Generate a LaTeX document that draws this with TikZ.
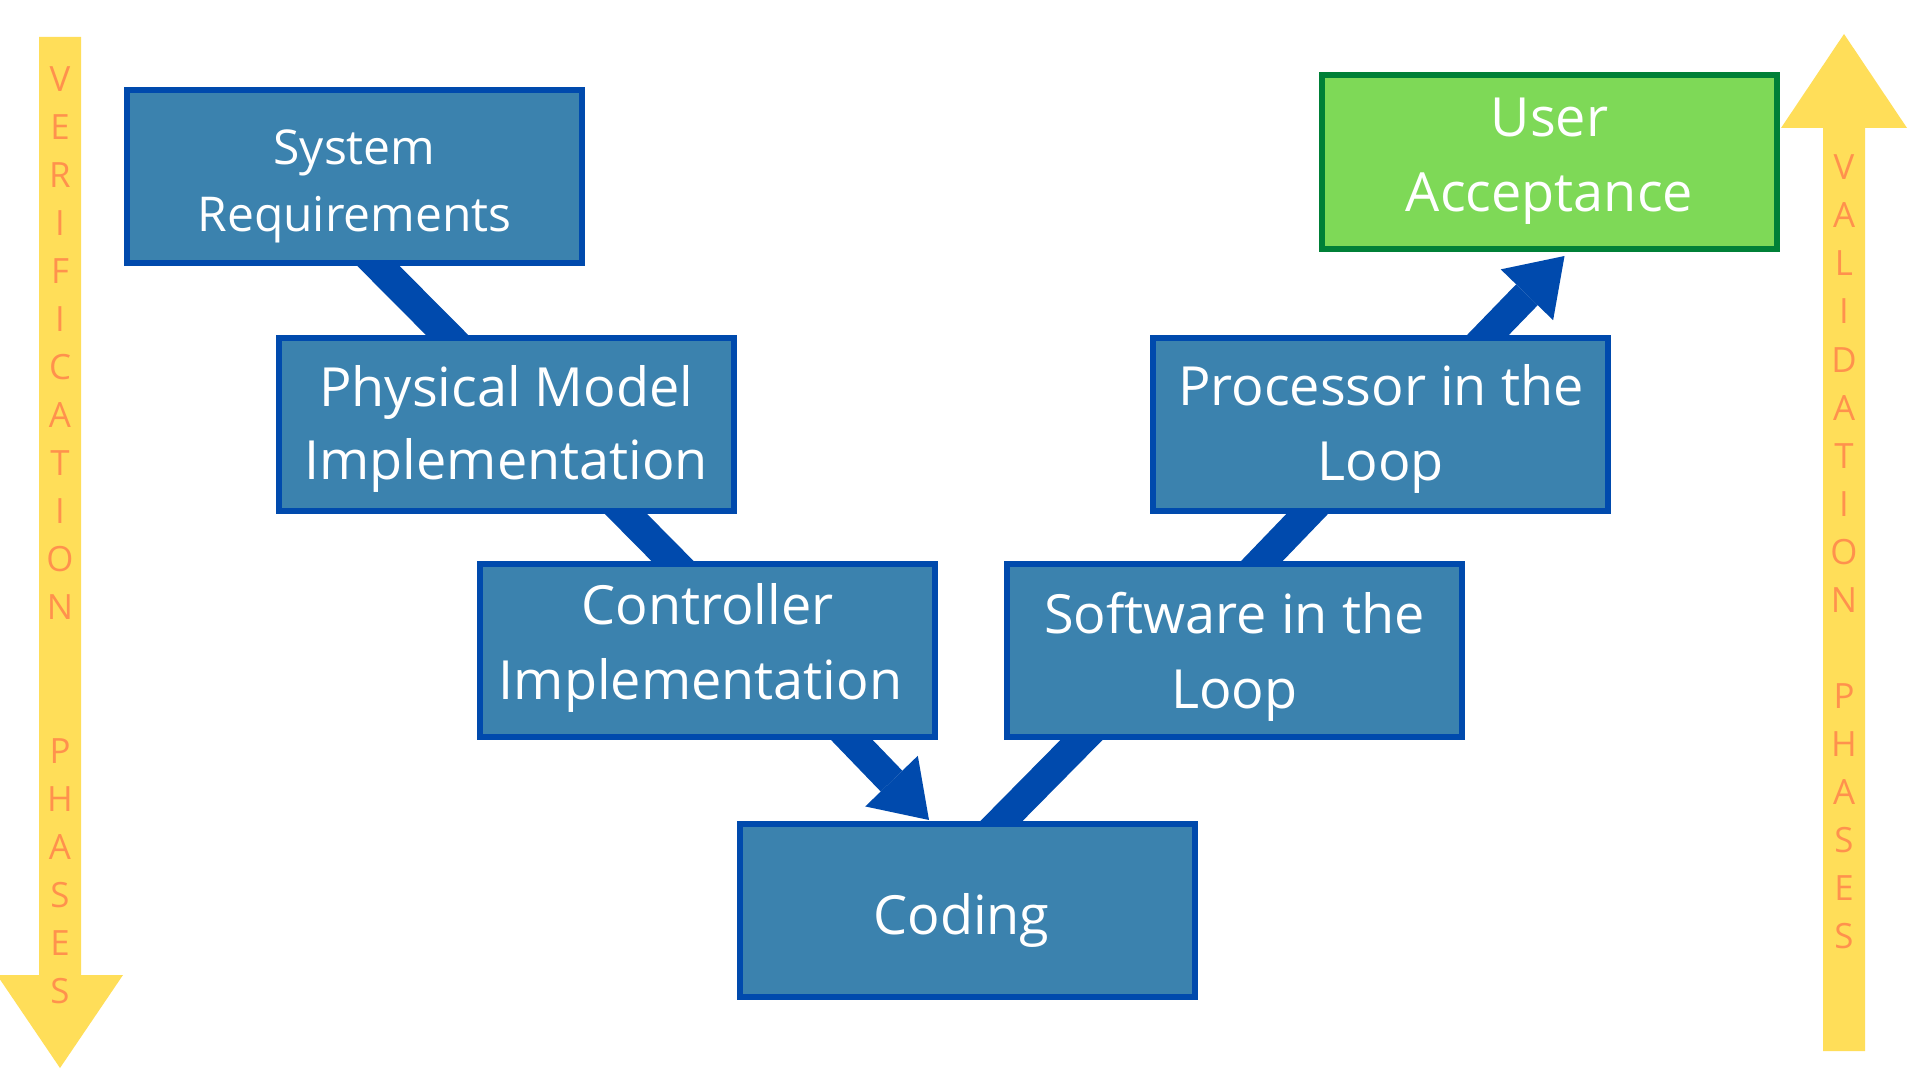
\documentclass[tikz,border=0pt]{standalone}
\usepackage{fontspec}
\setmainfont{Open Sans}
\usetikzlibrary{arrows.meta,calc}
\definecolor{boxfill}{HTML}{3B82AE}
\definecolor{boxline}{HTML}{004AAD}
\definecolor{uafill}{HTML}{7ED957}
\definecolor{ualine}{HTML}{008037}
\definecolor{phase}{HTML}{FFDE59}
\definecolor{phasetxt}{HTML}{FF914D}
\pgfdeclarelayer{back}
\pgfdeclarelayer{bg}
\pgfsetlayers{back,bg,main}
\begin{document}
\begin{tikzpicture}[x=0.5pt,y=-0.5pt,
  stage/.style={draw=boxline, fill=boxfill, line width=3pt, minimum width=227.5pt, minimum height=86.5pt, inner sep=0pt, outer sep=0pt},
  accept/.style={stage, draw=ualine, fill=uafill, minimum height=87pt},
  lbl/.style={text=white, font=\fontsize{27}{37.5}\selectfont, inner sep=0pt, anchor=base},
  lblsmall/.style={lbl, font=\fontsize{24}{33.5}\selectfont},
  conn/.style={draw=boxline, line width=15pt},
  head/.style={-{Triangle[length=27pt,width=36.5pt,line width=0pt]}},
  letter/.style={text=phasetxt, font=\fontsize{17.4}{24}\selectfont, inner sep=0pt, anchor=base},
]
\useasboundingbox (0,0) rectangle (1920,1080);
\begin{pgfonlayer}{back}
\fill[white] (0,0) rectangle (1920,1080);
\end{pgfonlayer}

% phase arrows
\fill[phase] (39,37) -- (81,37) -- (81,975) -- (123,975) -- (60,1068) -- (-3,975) -- (39,975) -- cycle;
\fill[phase] (1823,1051) -- (1865,1051) -- (1865,128) -- (1907,128) -- (1844,34) -- (1781,128) -- (1823,128) -- cycle;

\foreach \c/\i in {V/0,E/1,R/2,I/3,F/4,I/5,C/6,A/7,T/8,I/9,O/10,N/11,P/14,H/15,A/16,S/17,E/18,S/19}
  \node[letter] (ver\i) at (60,{91.3+48.03*\i}) {\c};
\foreach \c/\i in {V/0,A/1,L/2,I/3,D/4,A/5,T/6,I/7,O/8,N/9,P/11,H/12,A/13,S/14,E/15,S/16}
  \node[letter] (val\i) at (1844,{179.8+48.06*\i}) {\c};

% boxes
\node[stage] (sr) at (354.5,176.5) {};
\node[stage] (pm) at (506.25,424.5) {};
\node[stage] (ci) at (707.5,650.5) {};
\node[stage] (co) at (967.5,910.5) {};
\node[stage] (sw) at (1234.4,650.5) {};
\node[stage] (pr) at (1380.8,424.5) {};
\node[accept] (ua) at (1549.5,162) {};

% labels
\node[lblsmall] (sr1) at (354.5,164.6) {System};
\node[lblsmall] (sr2) at (354.5,231.4) {Requirements};
\node[lbl] (pm1) at (506.25,406) {Physical Model};
\node[lbl] (pm2) at (506.25,479.5) {Implementation};
\node[lbl] (ci1) at (707.5,624) {Controller};
\node[lbl] (ci2) at (700.5,699.3) {Implementation};
\node[lbl] (co1) at (961.4,934.3) {Coding};
\node[lbl] (sw1) at (1234.4,633) {Software in the};
\node[lbl] (sw2) at (1234.4,708) {Loop};
\node[lbl] (pr1) at (1380.8,405) {Processor in the};
\node[lbl] (pr2) at (1380.8,480) {Loop};
\node[lbl] (ua1) at (1549.5,137) {User};
\node[lbl] (ua2) at (1549.5,212) {Acceptance};

% connectors
\begin{pgfonlayer}{bg}
\draw[conn, shorten <=-12pt, shorten >=-12pt] ([xshift=10.5pt]sr.south) -- ([xshift=-28.1pt]pm.north);
\draw[conn, shorten <=-12pt, shorten >=-12pt] ([xshift=58.4pt]pm.south) -- ([xshift=-16pt]ci.north);
\draw[conn, head, shorten <=-12pt] ([xshift=70.75pt]ci.south) -- ([xshift=-19.25pt,yshift=2pt]co.north);
\draw[conn, shorten <=-12pt, shorten >=-12pt] ([xshift=15.5pt]co.north) -- ([xshift=-75pt]sw.south);
\draw[conn, shorten <=-12pt, shorten >=-12pt] ([xshift=12.3pt]sw.north) -- ([xshift=-35.4pt]pr.south);
\draw[conn, head, shorten <=-12pt] ([xshift=52.1pt]pr.north) -- ([xshift=7.5pt,yshift=-3.5pt]ua.south);
\end{pgfonlayer}
\end{tikzpicture}
\end{document}
